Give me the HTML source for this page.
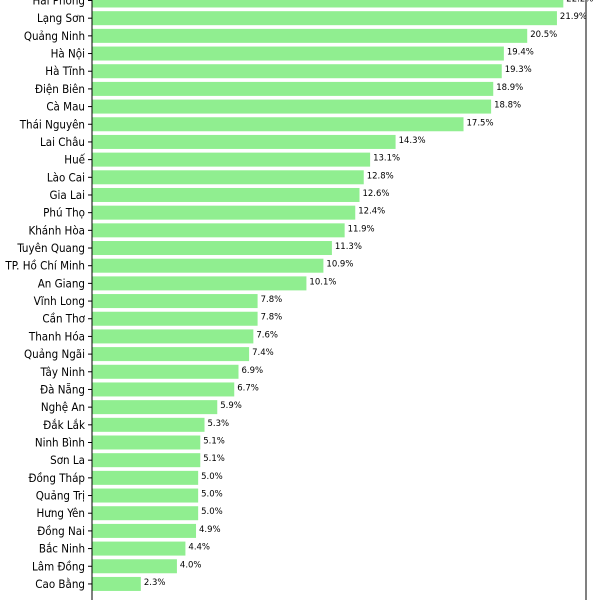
<!DOCTYPE html>
<html><head><meta charset="utf-8"><style>
html,body{margin:0;padding:0;background:#fff;}
svg{display:block;font-family:"DejaVu Sans","Liberation Sans",sans-serif;}
.cl{font-family:"DejaVu Sans Condensed","DejaVu Sans","Liberation Sans",sans-serif;font-stretch:condensed;}
</style></head><body>
<svg id="chart" width="600" height="600">
<g id="bars"></g>
<g id="ylabels"></g>
<g id="vlabels"></g>
<line x1="92" y1="0" x2="92" y2="600" stroke="#000" stroke-width="1"/>
<line x1="586" y1="0" x2="586" y2="600" stroke="#000" stroke-width="1"/>
</svg>
<script>
const categories = ["Hải Phòng","Lạng Sơn","Quảng Ninh","Hà Nội","Hà Tĩnh","Điện Biên","Cà Mau","Thái Nguyên","Lai Châu","Huế","Lào Cai","Gia Lai","Phú Thọ","Khánh Hòa","Tuyên Quang","TP. Hồ Chí Minh","An Giang","Vĩnh Long","Cần Thơ","Thanh Hóa","Quảng Ngãi","Tây Ninh","Đà Nẵng","Nghệ An","Đắk Lắk","Ninh Bình","Sơn La","Đồng Tháp","Quảng Trị","Hưng Yên","Đồng Nai","Bắc Ninh","Lâm Đồng","Cao Bằng"];
const values = [22.2,21.9,20.5,19.4,19.3,18.9,18.8,17.5,14.3,13.1,12.8,12.6,12.4,11.9,11.3,10.9,10.1,7.8,7.8,7.6,7.4,6.9,6.7,5.9,5.3,5.1,5.1,5.0,5.0,5.0,4.9,4.4,4.0,2.3];
const valueLabels = values.map(v => v.toFixed(1) + "%");
const NS = "http://www.w3.org/2000/svg";
const x = v => 92 + v * 21.23;
const y = i => 0.5 + i * 17.68;
const bh = 14;
const gb = document.getElementById("bars"), gl = document.getElementById("ylabels"), gv = document.getElementById("vlabels");
categories.forEach((c, i) => {
  const r = document.createElementNS(NS, "rect");
  r.setAttribute("x", 92); r.setAttribute("y", y(i) - bh/2);
  r.setAttribute("width", x(values[i]) - 92); r.setAttribute("height", bh);
  r.setAttribute("fill", "#90ee90");
  
  
  gb.appendChild(r);
  const t = document.createElementNS(NS, "line");
  t.setAttribute("x1", 88); t.setAttribute("x2", 92); t.setAttribute("y1", y(i)); t.setAttribute("y2", y(i));
  t.setAttribute("stroke", "#000");
  
  
  gl.appendChild(t);
  const l = document.createElementNS(NS, "text");
  l.setAttribute("x", 85); l.setAttribute("y", y(i) + 4); l.setAttribute("text-anchor", "end");
  l.setAttribute("font-size", "11.5"); l.setAttribute("class", "cl"); l.textContent = c;
  
  
  gl.appendChild(l);
  const vl = document.createElementNS(NS, "text");
  vl.setAttribute("x", x(values[i]) + 3); vl.setAttribute("y", y(i) + 1);
  vl.setAttribute("font-size", "8.5"); vl.textContent = valueLabels[i];
  
  
  gv.appendChild(vl);
});
</script>
</body></html>
